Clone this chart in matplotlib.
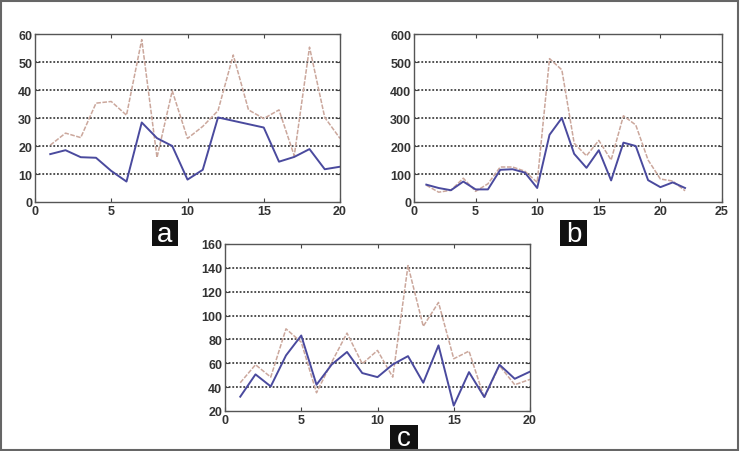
import matplotlib.pyplot as plt
import numpy as np

# panel a
x_a = list(range(1, 21))
blue_a = [17.1, 18.5, 16, 15.8, 11.1, 7.3, 28.4, 22.8, 20, 8,
          11.5, 30.2, 29, 27.8, 26.6, 14.4, 16.1, 18.9, 11.7, 12.6]
tan_a = [20.3, 24.6, 23, 35.3, 35.9, 31, 58, 15.9, 39.7, 22.7,
         27, 32.6, 52.5, 32.9, 29.8, 32.9, 16.5, 55.3, 30.2, 22.7]

# panel b
x_b = list(range(1, 23))
blue_b = [62, 50, 42, 73, 45, 45, 115, 117, 105, 50, 240,
          300, 172, 122, 185, 77, 212, 200, 78, 53, 70, 50]
tan_b = [60, 35, 42, 85, 38, 65, 125, 125, 110, 70, 512,
         472, 210, 165, 220, 150, 308, 275, 150, 82, 75, 40]

# panel c
x_c = list(range(1, 21))
blue_c = [32, 50.7, 40.6, 66.6, 83.3, 42, 59, 69.5, 51.8, 48.4,
          59, 66, 43.7, 75, 24.5, 52.6, 31.7, 58.8, 47, 53]
tan_c = [43.7, 58.8, 48.4, 88.9, 77.7, 35.3, 61, 85.3, 59.6, 70.8,
         48.4, 141.9, 91, 111, 63.8, 70.2, 31, 58, 42, 46.5]

plt.rcParams['font.family'] = ['Liberation Sans', 'DejaVu Sans']

W, H = 740, 452
fig = plt.figure(figsize=(W / 100, H / 100), dpi=100)

BLUE = '#4a4a9e'
TAN = '#cba79c'


def px_axes(x0, y0, x1, y1):
    return fig.add_axes([x0 / W, 1 - y1 / H, (x1 - x0) / W, (y1 - y0) / H])


def letter_box(letter, x0, y0, x1, y1):
    fig.add_artist(plt.Rectangle((x0 / W, 1 - y1 / H), (x1 - x0) / W,
                                 (y1 - y0) / H, transform=fig.transFigure,
                                 facecolor='#111111', edgecolor='none'))
    fig.text((x0 + x1) / 2 / W, 1 - ((y0 + y1) / 2 + 1) / H, letter,
             color='white', fontsize=20, ha='center', va='center')


def draw(ax, x, blue, tan, xlim, xticks, ylim, yticks):
    ax.plot(x, tan, color=TAN, lw=1.1, ls=(0, (3, 1)))
    ax.plot(x, blue, color=BLUE, lw=1.4)
    ax.set_xlim(*xlim)
    ax.set_ylim(*ylim)
    ax.set_xticks(xticks)
    ax.set_yticks(yticks)
    for y in yticks[1:-1]:
        ax.axhline(y, color='#222222', lw=1.1, ls=(0, (1.2, 1.2)), zorder=0)
    ax.tick_params(direction='in', top=True, right=True, length=3,
                   labelsize=9, color='#444444', pad=2)
    for lab in ax.get_xticklabels() + ax.get_yticklabels():
        lab.set_fontweight('bold')
        lab.set_color('#333333')
    for s in ax.spines.values():
        s.set_color('#555555')
        s.set_linewidth(1.0)


ax_a = px_axes(35, 35, 340, 203)
draw(ax_a, x_a, blue_a, tan_a, (0, 20), [0, 5, 10, 15, 20], (0, 60),
     [0, 10, 20, 30, 40, 50, 60])
letter_box('a', 152, 221, 178, 247)

ax_b = px_axes(414, 35, 722, 203)
draw(ax_b, x_b, blue_b, tan_b, (0, 25), [0, 5, 10, 15, 20, 25], (0, 600),
     [0, 100, 200, 300, 400, 500, 600])
letter_box('b', 560, 221, 587, 247)

ax_c = px_axes(225, 245, 530, 412)
draw(ax_c, x_c, blue_c, tan_c, (0, 20), [0, 5, 10, 15, 20], (20, 160),
     [20, 40, 60, 80, 100, 120, 140, 160])
letter_box('c', 390, 426, 418, 451)

# outer frame
fig.add_artist(plt.Rectangle((1 / W, 1.5 / H), (W - 3) / W, (H - 3) / H,
                             transform=fig.transFigure, fill=False,
                             edgecolor='#666666', lw=1.5))

fig.savefig('out.png', dpi=100)
